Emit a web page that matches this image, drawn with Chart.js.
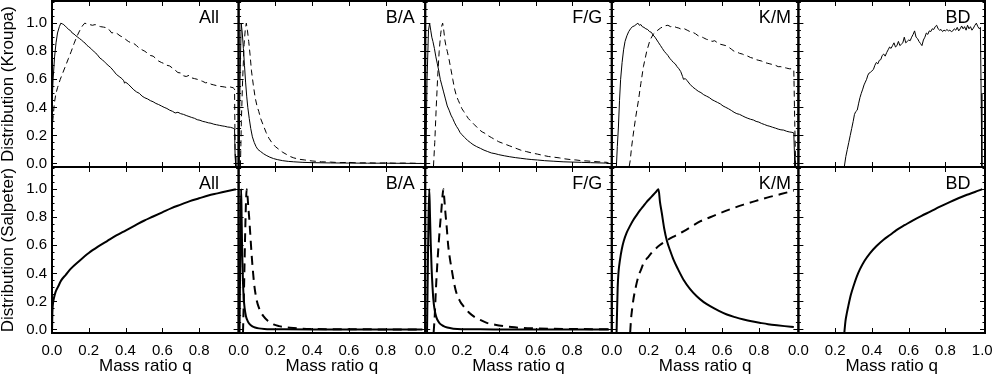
<!DOCTYPE html>
<html>
<head>
<meta charset="utf-8">
<style>
  html, body { margin: 0; padding: 0; background: #fff; }
  #wrap { width: 994px; height: 380px; }
</style>
<script src="https://cdn.jsdelivr.net/npm/chart.js@4.4.1/dist/chart.umd.min.js"></script>
</head>
<body>
<div id="wrap"><canvas id="massChart" width="994" height="380"></canvas></div>
<script>
/* ========= LABELS / TICKS ========= */
const panelNames = ["All", "B/A", "F/G", "K/M", "BD"];
const rowTitles = ["Distribution (Kroupa)", "Distribution (Salpeter)"];
const xTitle = "Mass ratio q";
const qTicks = [0, 0.2, 0.4, 0.6, 0.8];
const qTicksLast = [0, 0.2, 0.4, 0.6, 0.8, 1.0];
const yTicks = [0, 0.2, 0.4, 0.6, 0.8, 1.0];
const yMinorTicks = [0.05, 0.1, 0.15, 0.25, 0.3, 0.35, 0.45, 0.5, 0.55, 0.65, 0.7, 0.75, 0.85, 0.9, 0.95, 1.05, 1.1, 1.15];

/* ========= KROUPA (top row), [q, value] ========= */
const kAllSolid = [[0,0.42],[0.006,0.6],[0.014,0.76],[0.022,0.86],[0.03,0.93],[0.04,0.975],[0.048,1.0],[0.056,0.995],[0.064,0.99],[0.072,0.978],[0.08,0.97],[0.09,0.955],[0.1,0.948],[0.11,0.93],[0.12,0.922],[0.13,0.91],[0.14,0.9],[0.15,0.89],[0.16,0.88],[0.17,0.868],[0.18,0.858],[0.19,0.842],[0.2,0.832],[0.215,0.815],[0.23,0.795],[0.245,0.778],[0.26,0.752],[0.275,0.738],[0.29,0.718],[0.305,0.7],[0.32,0.683],[0.335,0.66],[0.35,0.635],[0.365,0.62],[0.38,0.605],[0.39,0.59],[0.395,0.572],[0.4,0.58],[0.415,0.565],[0.43,0.545],[0.445,0.525],[0.46,0.51],[0.475,0.5],[0.49,0.48],[0.505,0.468],[0.52,0.46],[0.535,0.448],[0.55,0.44],[0.565,0.428],[0.58,0.42],[0.595,0.41],[0.61,0.4],[0.625,0.392],[0.64,0.38],[0.655,0.372],[0.67,0.36],[0.685,0.365],[0.7,0.355],[0.715,0.35],[0.73,0.342],[0.745,0.335],[0.76,0.328],[0.775,0.322],[0.79,0.312],[0.805,0.308],[0.82,0.3],[0.835,0.296],[0.85,0.29],[0.865,0.287],[0.88,0.28],[0.895,0.276],[0.91,0.272],[0.925,0.268],[0.94,0.265],[0.955,0.26],[0.97,0.258],[0.985,0.252],[0.993,0.245],[0.996,0.05],[1.0,-0.02]];
const kAllDash = [[0.004,0.3],[0.012,0.42],[0.02,0.49],[0.03,0.54],[0.045,0.6],[0.06,0.65],[0.075,0.7],[0.09,0.75],[0.105,0.8],[0.12,0.855],[0.135,0.905],[0.15,0.945],[0.165,0.98],[0.178,1.0],[0.19,0.995],[0.205,0.99],[0.22,0.985],[0.235,0.99],[0.25,0.98],[0.265,0.975],[0.28,0.972],[0.295,0.968],[0.31,0.955],[0.325,0.93],[0.34,0.935],[0.355,0.925],[0.37,0.91],[0.385,0.9],[0.4,0.885],[0.415,0.87],[0.43,0.86],[0.445,0.855],[0.46,0.84],[0.475,0.82],[0.49,0.81],[0.505,0.8],[0.52,0.785],[0.535,0.77],[0.55,0.765],[0.565,0.748],[0.58,0.73],[0.595,0.72],[0.61,0.712],[0.625,0.7],[0.64,0.695],[0.655,0.68],[0.67,0.665],[0.685,0.648],[0.7,0.645],[0.715,0.625],[0.73,0.62],[0.745,0.628],[0.76,0.61],[0.775,0.605],[0.79,0.6],[0.805,0.592],[0.82,0.585],[0.835,0.575],[0.85,0.578],[0.865,0.565],[0.88,0.56],[0.895,0.555],[0.91,0.55],[0.925,0.548],[0.94,0.545],[0.955,0.54],[0.97,0.545],[0.985,0.54],[0.993,0.53],[0.996,0.1],[1.0,-0.02]];

const kBASolid = [[0.002,-0.02],[0.008,0.6],[0.014,1.0],[0.02,0.93],[0.026,0.82],[0.032,0.7],[0.038,0.58],[0.044,0.48],[0.05,0.4],[0.058,0.32],[0.066,0.25],[0.075,0.19],[0.085,0.15],[0.095,0.12],[0.105,0.1],[0.12,0.085],[0.135,0.07],[0.15,0.058],[0.17,0.045],[0.19,0.035],[0.21,0.028],[0.24,0.02],[0.27,0.015],[0.3,0.012],[0.35,0.008],[0.4,0.006],[0.5,0.004],[0.6,0.003],[0.7,0.002],[0.8,0.002],[0.9,0.001],[1.0,0]];
const kBADash = [[0.01,-0.02],[0.015,0.3],[0.022,0.6],[0.03,0.85],[0.036,0.95],[0.042,1.0],[0.048,0.95],[0.055,0.87],[0.062,0.78],[0.07,0.66],[0.08,0.56],[0.09,0.47],[0.1,0.41],[0.11,0.37],[0.12,0.32],[0.135,0.27],[0.15,0.22],[0.165,0.18],[0.18,0.15],[0.2,0.12],[0.22,0.1],[0.24,0.08],[0.26,0.065],[0.28,0.05],[0.3,0.04],[0.33,0.03],[0.36,0.025],[0.4,0.018],[0.45,0.012],[0.5,0.01],[0.55,0.006],[0.6,0.008],[0.65,0.004],[0.7,0.005],[0.75,0.003],[0.8,0.004],[0.85,0.002],[0.9,0.003],[0.95,0.002],[1.0,0]];

const kFGSolid = [[0.003,-0.02],[0.01,0.6],[0.018,0.95],[0.024,1.0],[0.03,0.95],[0.036,0.9],[0.042,0.87],[0.05,0.82],[0.058,0.76],[0.066,0.71],[0.074,0.66],[0.082,0.6],[0.09,0.56],[0.1,0.51],[0.11,0.46],[0.12,0.41],[0.13,0.38],[0.14,0.345],[0.15,0.32],[0.16,0.29],[0.17,0.265],[0.18,0.245],[0.19,0.22],[0.2,0.205],[0.215,0.185],[0.23,0.165],[0.245,0.15],[0.26,0.135],[0.28,0.12],[0.3,0.108],[0.32,0.095],[0.34,0.085],[0.36,0.075],[0.38,0.07],[0.4,0.063],[0.43,0.055],[0.46,0.048],[0.49,0.042],[0.52,0.037],[0.55,0.032],[0.58,0.028],[0.61,0.025],[0.65,0.02],[0.7,0.016],[0.75,0.012],[0.8,0.01],[0.85,0.008],[0.9,0.006],[0.95,0.004],[0.98,0.003],[1.0,0]];
const kFGDash = [[0.045,-0.02],[0.052,0.15],[0.06,0.4],[0.068,0.62],[0.076,0.8],[0.084,0.92],[0.09,0.98],[0.095,1.0],[0.1,0.96],[0.107,0.88],[0.114,0.83],[0.12,0.8],[0.13,0.74],[0.14,0.67],[0.15,0.6],[0.16,0.53],[0.17,0.48],[0.18,0.45],[0.19,0.42],[0.2,0.39],[0.21,0.37],[0.22,0.35],[0.235,0.32],[0.25,0.3],[0.265,0.28],[0.28,0.26],[0.295,0.24],[0.31,0.225],[0.325,0.215],[0.34,0.2],[0.36,0.185],[0.38,0.17],[0.4,0.155],[0.42,0.145],[0.44,0.135],[0.46,0.125],[0.48,0.115],[0.5,0.105],[0.52,0.095],[0.55,0.085],[0.58,0.075],[0.61,0.067],[0.64,0.058],[0.67,0.05],[0.7,0.045],[0.73,0.04],[0.76,0.033],[0.79,0.028],[0.82,0.025],[0.85,0.02],[0.88,0.018],[0.91,0.015],[0.94,0.012],[0.97,0.01],[0.99,0.008],[1.0,0]];

const kKMSolid = [[0.025,-0.02],[0.03,0.12],[0.036,0.26],[0.042,0.45],[0.048,0.6],[0.056,0.72],[0.064,0.81],[0.072,0.87],[0.082,0.91],[0.092,0.94],[0.102,0.96],[0.112,0.975],[0.122,0.98],[0.132,0.99],[0.142,1.0],[0.15,0.985],[0.158,0.99],[0.166,0.975],[0.175,0.97],[0.185,0.96],[0.195,0.955],[0.205,0.94],[0.215,0.935],[0.225,0.915],[0.235,0.9],[0.245,0.88],[0.255,0.86],[0.265,0.84],[0.275,0.82],[0.285,0.8],[0.295,0.785],[0.305,0.77],[0.315,0.75],[0.325,0.735],[0.335,0.72],[0.345,0.71],[0.355,0.69],[0.365,0.675],[0.375,0.655],[0.385,0.62],[0.39,0.6],[0.4,0.605],[0.41,0.59],[0.425,0.565],[0.44,0.545],[0.455,0.53],[0.47,0.515],[0.485,0.505],[0.5,0.49],[0.515,0.48],[0.53,0.47],[0.545,0.455],[0.56,0.445],[0.575,0.435],[0.59,0.425],[0.605,0.41],[0.62,0.4],[0.635,0.39],[0.65,0.378],[0.665,0.365],[0.68,0.355],[0.695,0.35],[0.71,0.34],[0.725,0.33],[0.74,0.322],[0.755,0.315],[0.77,0.31],[0.785,0.3],[0.8,0.295],[0.815,0.285],[0.83,0.278],[0.845,0.27],[0.86,0.265],[0.875,0.258],[0.89,0.252],[0.905,0.245],[0.92,0.24],[0.935,0.238],[0.95,0.23],[0.965,0.225],[0.98,0.222],[0.99,0.218],[0.994,0.05],[0.996,-0.02]];
const kKMDash = [[0.095,-0.02],[0.1,0.02],[0.108,0.12],[0.117,0.21],[0.13,0.33],[0.145,0.45],[0.158,0.57],[0.172,0.69],[0.19,0.8],[0.208,0.88],[0.225,0.92],[0.245,0.945],[0.265,0.965],[0.285,0.98],[0.305,0.985],[0.32,0.975],[0.335,0.98],[0.35,0.97],[0.365,0.965],[0.38,0.955],[0.395,0.96],[0.41,0.95],[0.425,0.94],[0.44,0.935],[0.455,0.925],[0.47,0.91],[0.485,0.905],[0.5,0.895],[0.515,0.885],[0.53,0.88],[0.545,0.87],[0.56,0.875],[0.575,0.86],[0.59,0.85],[0.605,0.845],[0.62,0.84],[0.635,0.83],[0.65,0.815],[0.665,0.8],[0.68,0.795],[0.695,0.785],[0.71,0.78],[0.725,0.77],[0.74,0.765],[0.755,0.755],[0.77,0.75],[0.785,0.74],[0.8,0.735],[0.815,0.73],[0.83,0.72],[0.845,0.715],[0.86,0.71],[0.875,0.705],[0.89,0.7],[0.905,0.69],[0.92,0.69],[0.935,0.685],[0.95,0.68],[0.965,0.675],[0.98,0.675],[0.99,0.67],[0.995,0.3],[1.0,-0.02]];

const kBDSolid = [[0.25,-0.02],[0.258,0.05],[0.266,0.1],[0.274,0.15],[0.282,0.2],[0.29,0.25],[0.298,0.3],[0.305,0.35],[0.312,0.37],[0.32,0.38],[0.328,0.43],[0.335,0.47],[0.342,0.5],[0.35,0.53],[0.357,0.56],[0.364,0.58],[0.371,0.6],[0.378,0.63],[0.385,0.645],[0.392,0.65],[0.4,0.66],[0.408,0.67],[0.416,0.7],[0.424,0.72],[0.432,0.71],[0.44,0.735],[0.448,0.74],[0.456,0.77],[0.464,0.78],[0.472,0.765],[0.48,0.79],[0.488,0.81],[0.496,0.83],[0.504,0.82],[0.512,0.84],[0.52,0.86],[0.528,0.83],[0.536,0.84],[0.544,0.87],[0.552,0.84],[0.56,0.85],[0.568,0.86],[0.576,0.9],[0.584,0.86],[0.592,0.87],[0.6,0.88],[0.608,0.875],[0.616,0.9],[0.624,0.92],[0.632,0.945],[0.64,0.9],[0.648,0.89],[0.656,0.87],[0.664,0.855],[0.672,0.84],[0.68,0.88],[0.688,0.9],[0.696,0.93],[0.704,0.92],[0.712,0.945],[0.72,0.94],[0.728,0.96],[0.736,0.955],[0.744,0.975],[0.752,0.985],[0.76,0.96],[0.768,0.95],[0.776,0.955],[0.784,0.94],[0.792,0.95],[0.8,0.945],[0.808,0.955],[0.816,0.945],[0.824,0.95],[0.832,0.94],[0.84,0.945],[0.848,0.96],[0.856,0.95],[0.864,0.97],[0.872,0.945],[0.88,0.96],[0.888,0.98],[0.896,0.96],[0.904,0.975],[0.912,0.95],[0.92,0.985],[0.928,0.96],[0.936,0.975],[0.944,0.95],[0.952,0.965],[0.96,0.985],[0.968,1.0],[0.976,0.975],[0.984,0.96],[0.99,0.97],[0.994,0.5],[0.998,-0.02]];

/* ========= SALPETER (bottom row), [q, value] ========= */
const sAllSolid = [[0,-0.02],[0.002,0.12],[0.005,0.18],[0.01,0.22],[0.02,0.27],[0.035,0.31],[0.05,0.35],[0.075,0.39],[0.1,0.43],[0.15,0.49],[0.2,0.545],[0.25,0.59],[0.3,0.63],[0.35,0.67],[0.4,0.705],[0.45,0.74],[0.5,0.775],[0.55,0.805],[0.6,0.835],[0.65,0.865],[0.7,0.89],[0.75,0.915],[0.8,0.935],[0.85,0.955],[0.9,0.97],[0.95,0.985],[1.0,1.0]];

const sBASolid = [[0.005,-0.02],[0.008,0.4],[0.011,0.8],[0.014,1.0],[0.017,0.75],[0.02,0.52],[0.024,0.33],[0.028,0.22],[0.033,0.15],[0.04,0.095],[0.05,0.058],[0.06,0.038],[0.075,0.022],[0.09,0.014],[0.11,0.008],[0.14,0.004],[0.18,0.002],[0.25,0.001],[0.4,0],[1.0,0]];
const sBADash = [[0.024,-0.02],[0.028,0.2],[0.032,0.45],[0.036,0.7],[0.04,0.9],[0.044,1.0],[0.048,0.96],[0.053,0.87],[0.058,0.79],[0.062,0.71],[0.07,0.55],[0.077,0.43],[0.085,0.32],[0.098,0.21],[0.115,0.14],[0.135,0.095],[0.16,0.06],[0.19,0.036],[0.22,0.024],[0.26,0.015],[0.3,0.01],[0.35,0.006],[0.4,0.004],[0.5,0.002],[0.7,0.001],[1.0,0]];

const sFGSolid = [[0.01,-0.02],[0.014,0.4],[0.018,0.8],[0.022,1.0],[0.026,0.82],[0.03,0.62],[0.035,0.43],[0.04,0.3],[0.044,0.22],[0.05,0.15],[0.056,0.11],[0.062,0.083],[0.07,0.06],[0.08,0.042],[0.1,0.024],[0.12,0.014],[0.153,0.006],[0.2,0.002],[0.3,0.001],[0.5,0],[1.0,0]];
const sFGDash = [[0.046,-0.02],[0.052,0.1],[0.057,0.25],[0.062,0.38],[0.07,0.55],[0.08,0.73],[0.088,0.85],[0.094,0.95],[0.099,1.0],[0.104,0.93],[0.11,0.83],[0.117,0.73],[0.125,0.6],[0.135,0.5],[0.144,0.43],[0.157,0.33],[0.17,0.26],[0.19,0.2],[0.208,0.166],[0.235,0.125],[0.262,0.095],[0.3,0.068],[0.335,0.047],[0.38,0.034],[0.426,0.024],[0.47,0.017],[0.516,0.012],[0.6,0.008],[0.7,0.005],[0.85,0.003],[1.0,0.001]];

const sKMSolid = [[0.026,-0.02],[0.029,0.15],[0.032,0.3],[0.036,0.4],[0.045,0.5],[0.054,0.57],[0.065,0.63],[0.081,0.69],[0.1,0.74],[0.117,0.78],[0.135,0.815],[0.154,0.85],[0.172,0.88],[0.19,0.91],[0.208,0.935],[0.226,0.96],[0.24,0.98],[0.254,1.0],[0.262,0.91],[0.272,0.83],[0.285,0.72],[0.3,0.63],[0.318,0.56],[0.335,0.5],[0.36,0.43],[0.39,0.355],[0.425,0.29],[0.462,0.237],[0.5,0.195],[0.535,0.166],[0.58,0.135],[0.626,0.107],[0.67,0.088],[0.717,0.071],[0.76,0.058],[0.808,0.047],[0.85,0.038],[0.898,0.03],[0.94,0.024],[0.99,0.018]];
const sKMDash = [[0.1,-0.02],[0.105,0.08],[0.11,0.14],[0.117,0.21],[0.13,0.3],[0.145,0.38],[0.16,0.43],[0.172,0.47],[0.2,0.52],[0.226,0.56],[0.26,0.6],[0.3,0.635],[0.345,0.668],[0.39,0.7],[0.435,0.735],[0.48,0.77],[0.535,0.8],[0.59,0.83],[0.65,0.86],[0.717,0.89],[0.78,0.915],[0.845,0.94],[0.92,0.965],[0.99,0.99]];

const sBDSolid = [[0.25,-0.02],[0.256,0.06],[0.264,0.12],[0.272,0.17],[0.285,0.245],[0.3,0.31],[0.317,0.375],[0.335,0.43],[0.36,0.49],[0.39,0.545],[0.425,0.595],[0.463,0.64],[0.5,0.675],[0.535,0.71],[0.58,0.745],[0.626,0.78],[0.67,0.81],[0.717,0.84],[0.77,0.875],[0.826,0.91],[0.87,0.935],[0.917,0.96],[0.96,0.98],[1.0,1.0]];

const kroupaSolid = [kAllSolid, kBASolid, kFGSolid, kKMSolid, kBDSolid];
const kroupaDash = [kAllDash, kBADash, kFGDash, kKMDash, null];
const salpSolid = [sAllSolid, sBASolid, sFGSolid, sKMSolid, sBDSolid];
const salpDash = [null, sBADash, sFGDash, sKMDash, null];

/* ========= STYLE ========= */
const FAMILY = "'Liberation Sans', Arial, Helvetica, sans-serif";
const tickFont = { family: FAMILY, size: 15, lineHeight: 1 };
const titleFont = { family: FAMILY, size: 17, lineHeight: 1 };
const Y_MIN = -0.025, Y_MAX = 1.158, Q_MAX = 1.015;

function line(data, col, row, dashed) {
  return {
    data: data,
    xAxisID: "x" + col,
    yAxisID: row === 0 ? "yTop" : "yBot",
    borderColor: "#000",
    borderWidth: row === 0 ? 1 : 2,
    borderDash: dashed ? (row === 0 ? [6, 4] : [9, 6]) : [],
    pointRadius: 0,
    fill: false,
    tension: 0,
    cubicInterpolationMode: row === 1 ? "monotone" : "default"
  };
}

const datasets = [];
panelNames.forEach((_, i) => {
  datasets.push(line(kroupaSolid[i], i, 0, false));
  if (kroupaDash[i]) datasets.push(line(kroupaDash[i], i, 0, true));
  datasets.push(line(salpSolid[i], i, 1, false));
  if (salpDash[i]) datasets.push(line(salpDash[i], i, 1, true));
});

/* ========= SCALES ========= */
const scales = {};
panelNames.forEach((_, i) => {
  const last = i === panelNames.length - 1;
  scales["x" + i] = {
    type: "linear", position: "bottom", stack: "cols", stackWeight: 1,
    min: 0, max: Q_MAX,
    grid: { display: false, drawTicks: false },
    border: { display: false },
    ticks: { font: tickFont, color: "#000", padding: 10, maxRotation: 0, autoSkip: false,
             callback: v => v.toFixed(1) },
    title: { display: true, text: xTitle, font: titleFont, color: "#000", padding: { top: 0, bottom: 5 } },
    afterBuildTicks: s => { s.ticks = (last ? qTicksLast : qTicks).map(v => ({ value: v })); },
    afterFit: s => { s.height = 47; s.paddingLeft = 0; s.paddingRight = 0; }
  };
});
["yTop", "yBot"].forEach((id, r) => {
  scales[id] = {
    type: "linear", position: "left", stack: "rows", stackWeight: 1, weight: r === 0 ? 2 : 1,
    min: Y_MIN, max: Y_MAX,
    grid: { display: false, drawTicks: false },
    border: { display: false },
    ticks: { font: tickFont, color: "#000", padding: 5, autoSkip: false, callback: v => v.toFixed(1) },
    title: { display: true, text: rowTitles[r], font: titleFont, color: "#000", padding: 0 },
    afterBuildTicks: s => { s.ticks = yTicks.map(v => ({ value: v })); },
    afterFit: s => { s.width = 52; s.paddingTop = 0; s.paddingBottom = 0; }
  };
});

/* ========= FRAMES, INWARD TICKS, PANEL NAMES ========= */
const framePlugin = {
  id: "frames",
  afterDatasetsDraw(chart) {
    const ctx = chart.ctx;
    ctx.save();
    ctx.strokeStyle = "#000";
    ctx.fillStyle = "#000";
    ["yTop", "yBot"].forEach(yid => {
      const ys = chart.scales[yid];
      panelNames.forEach((name, i) => {
        const xs = chart.scales["x" + i];
        ctx.lineWidth = 1;
        ctx.beginPath();
        qTicks.slice(1).forEach(v => {
          const px = Math.round(xs.getPixelForValue(v)) + 0.5;
          ctx.moveTo(px, ys.top); ctx.lineTo(px, ys.top + 5);
          ctx.moveTo(px, ys.bottom); ctx.lineTo(px, ys.bottom - 5);
        });
        yTicks.concat(yMinorTicks).forEach(v => {
          const py = Math.round(ys.getPixelForValue(v)) + 0.5;
          const len = yTicks.includes(v) ? 5 : 2.5;
          ctx.moveTo(xs.left, py); ctx.lineTo(xs.left + len, py);
          ctx.moveTo(xs.right, py); ctx.lineTo(xs.right - len, py);
        });
        ctx.stroke();
        ctx.lineWidth = 2;
        ctx.strokeRect(xs.left, ys.top, xs.right - xs.left, ys.bottom - ys.top);

        ctx.font = "18px " + FAMILY;
        ctx.textAlign = "left";
        ctx.textBaseline = "alphabetic";
        ctx.fillText(name, xs.getPixelForValue(0.8), ys.getPixelForValue(1.0));
      });
    });
    ctx.restore();
  }
};

new Chart(document.getElementById("massChart"), {
  type: "line",
  data: { datasets: datasets },
  options: {
    responsive: false,
    animation: false,
    events: [],
    layout: { padding: { left: 0, top: 1, right: 9, bottom: 0 } },
    plugins: { legend: { display: false }, tooltip: { enabled: false } },
    scales: scales
  },
  plugins: [framePlugin]
});
</script>
</body>
</html>
